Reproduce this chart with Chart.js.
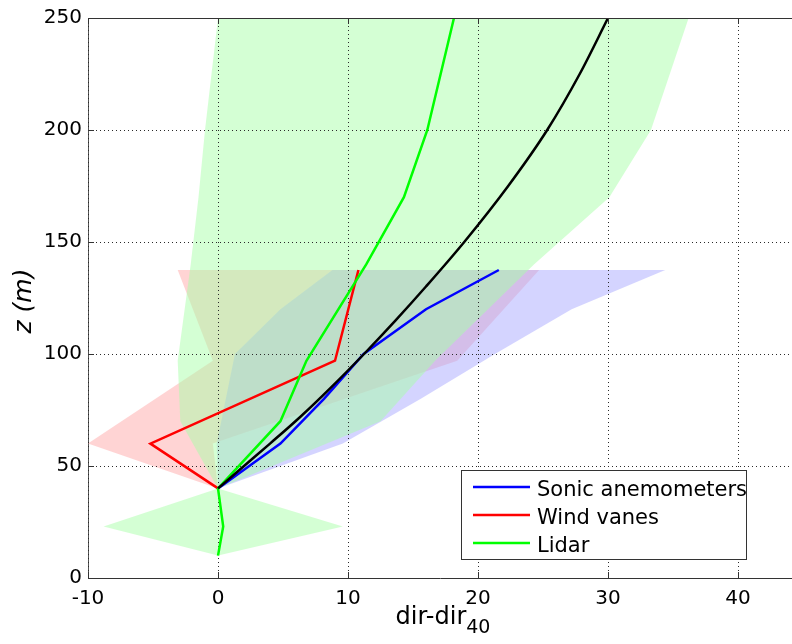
<!DOCTYPE html>
<html>
<head>
<meta charset="utf-8">
<title>Wind direction change with height</title>
<script src="https://cdn.jsdelivr.net/npm/chart.js@4/dist/chart.umd.min.js"></script>
<style>
  html, body { margin: 0; padding: 0; background: #ffffff; overflow: hidden; }
  #wrap { width: 792px; height: 644px; position: relative; }
</style>
</head>
<body>
<div id="wrap"><canvas id="veer" width="792" height="644"></canvas></div>
<script>
// Sonic anemometers: heights (m), mean turning and spread (deg)
const sonicHeights = [40, 60, 80, 100, 120, 137.5];
const sonicMean    = [0, 4.8, 8.15, 11.2, 16.0, 21.6];
const sonicLow     = [0, -0.1, 0.6, 1.3, 4.8, 8.8];
const sonicHigh    = [0, 9.6, 15.6, 21.3, 27.2, 34.4];

// Wind vanes
const vaneHeights = [40, 60, 97, 137.5];
const vaneMean    = [0, -5.2, 9.0, 10.8];
const vaneLow     = [0, -10.0, -0.4, -3.1];
const vaneHigh    = [0, -0.4, 18.4, 24.7];

// Lidar
const lidarHeights = [10, 23, 40, 70, 97, 140, 170, 200, 250];
const lidarMean    = [0, 0.4, 0, 4.8, 6.8, 11.4, 14.3, 16.1, 18.15];
const lidarLow     = [0, -8.8, 0, -2.9, -3.1, -2.1, -1.5, -1.0, 0];
const lidarHigh    = [0, 9.6, 0, 12.5, 16.7, 24.3, 30.1, 33.3, 36.2];

// Model profile
const fitHeights = [40, 50, 60, 72, 85, 100, 115, 130, 150, 175, 200, 225, 250];
const fitValues  = [0, 2.0, 4.0, 6.34, 8.68, 11.23, 13.66, 15.98, 18.94, 22.32, 25.32, 27.82, 30.0];

// Axis ticks
const xTicks = [-10, 0, 10, 20, 30, 40];
const yTicks = [0, 50, 100, 150, 200, 250];

const FONT = 'DejaVu Sans';

const toPoints = (xs, zs) => zs.map((z, i) => ({ x: xs[i], y: z }));
// closed outline: up the lower edge, back down the upper edge
const toBand = (lo, hi, zs) => toPoints(lo, zs).concat(toPoints(hi, zs).reverse());

function bandSet(lo, hi, zs, color, order) {
  return {
    label: '',
    data: toBand(lo, hi, zs),
    showLine: true,
    fill: 'shape',
    backgroundColor: color,
    borderColor: 'rgba(0,0,0,0)',
    borderWidth: 0,
    pointRadius: 0,
    tension: 0,
    order: order
  };
}

function lineSet(label, xs, zs, color, order, smooth) {
  const ds = {
    label: label,
    data: toPoints(xs, zs),
    showLine: true,
    fill: false,
    borderColor: color,
    backgroundColor: color,
    borderWidth: 2.5,
    pointRadius: 0,
    tension: 0,
    order: order
  };
  if (smooth) ds.cubicInterpolationMode = 'monotone';
  return ds;
}

const datasets = [
  bandSet(vaneLow, vaneHigh, vaneHeights, 'rgba(255,170,170,0.5)', 7),
  bandSet(sonicLow, sonicHigh, sonicHeights, 'rgba(170,170,255,0.5)', 6),
  bandSet(lidarLow, lidarHigh, lidarHeights, 'rgba(170,255,170,0.5)', 5),
  lineSet('Sonic anemometers', sonicMean, sonicHeights, '#0000ff', 4),
  lineSet('Wind vanes', vaneMean, vaneHeights, '#ff0000', 3),
  lineSet('Lidar', lidarMean, lidarHeights, '#00ff00', 2),
  lineSet('Profile', fitValues, fitHeights, '#000000', 1, true)
];
const LAST_BAND = 2;
const LEGEND_ITEMS = [3, 4, 5];

function drawGrid(chart) {
  const { ctx, chartArea: a, scales: { x, y } } = chart;
  ctx.save();
  ctx.beginPath();
  ctx.rect(a.left, a.top, a.right - a.left, a.bottom - a.top);
  ctx.clip();
  ctx.strokeStyle = '#2a2a2a';
  ctx.lineWidth = 1;
  ctx.setLineDash([1, 3]);
  ctx.beginPath();
  xTicks.forEach(v => {
    const px = Math.round(x.getPixelForValue(v)) + 0.5;
    ctx.moveTo(px, a.top);
    ctx.lineTo(px, a.bottom);
  });
  yTicks.forEach(v => {
    const py = Math.round(y.getPixelForValue(v)) + 0.5;
    ctx.moveTo(a.left, py);
    ctx.lineTo(a.right, py);
  });
  ctx.stroke();
  ctx.restore();
}

const decor = {
  id: 'decor',
  afterDatasetDraw(chart, args) {
    if (args.index === LAST_BAND) drawGrid(chart);
  },
  afterDraw(chart) {
    const { ctx, chartArea: a, scales: { x, y } } = chart;
    ctx.save();

    // inward tick marks and top box edge
    ctx.strokeStyle = '#333333';
    ctx.lineWidth = 1;
    ctx.setLineDash([]);
    ctx.beginPath();
    xTicks.forEach(v => {
      const px = Math.round(x.getPixelForValue(v)) + 0.5;
      ctx.moveTo(px, a.bottom); ctx.lineTo(px, a.bottom - 6);
      ctx.moveTo(px, a.top); ctx.lineTo(px, a.top + 6);
    });
    yTicks.forEach(v => {
      const py = Math.round(y.getPixelForValue(v)) + 0.5;
      ctx.moveTo(a.left, py); ctx.lineTo(a.left + 6, py);
    });
    ctx.moveTo(a.left, Math.round(a.top) + 0.5);
    ctx.lineTo(a.right, Math.round(a.top) + 0.5);
    ctx.stroke();

    // x axis title with subscript
    ctx.fillStyle = '#000000';
    ctx.textBaseline = 'alphabetic';
    ctx.textAlign = 'left';
    const mainFont = '24px "' + FONT + '"';
    const subFont = '19px "' + FONT + '"';
    ctx.font = mainFont;
    const wMain = ctx.measureText('dir-dir').width;
    ctx.font = subFont;
    const wSub = ctx.measureText('40').width;
    const cx = (a.left + a.right) / 2 + 3;
    const x0 = cx - (wMain + wSub) / 2;
    ctx.font = mainFont;
    ctx.fillText('dir-dir', x0, 624);
    ctx.font = subFont;
    ctx.fillText('40', x0 + wMain, 633);

    // y axis title
    ctx.save();
    ctx.translate(31, 301);
    ctx.rotate(-Math.PI / 2);
    ctx.font = 'italic 25px "' + FONT + '"';
    ctx.textAlign = 'center';
    ctx.fillText('z (m)', 0, 0);
    ctx.restore();

    // legend
    const box = { l: 461.5, t: 470.5, w: 285, h: 89 };
    ctx.fillStyle = '#ffffff';
    ctx.fillRect(box.l, box.t, box.w, box.h);
    ctx.strokeStyle = '#333333';
    ctx.lineWidth = 1;
    ctx.strokeRect(box.l, box.t, box.w, box.h);
    const rowLine = [487, 515, 543];
    const rowBase = [496, 524, 552];
    ctx.font = '21px "' + FONT + '"';
    ctx.textAlign = 'left';
    LEGEND_ITEMS.forEach((di, i) => {
      const ds = chart.data.datasets[di];
      ctx.strokeStyle = ds.borderColor;
      ctx.lineWidth = 2.5;
      ctx.beginPath();
      ctx.moveTo(473, rowLine[i]);
      ctx.lineTo(530, rowLine[i]);
      ctx.stroke();
      ctx.fillStyle = '#000000';
      ctx.fillText(ds.label, 537, rowBase[i]);
    });

    ctx.restore();
  }
};

new Chart(document.getElementById('veer'), {
  type: 'scatter',
  data: { datasets: datasets },
  options: {
    responsive: false,
    animation: false,
    events: [],
    devicePixelRatio: 1,
    layout: { padding: { top: 15, right: 0, bottom: 0, left: 0 } },
    plugins: {
      legend: { display: false },
      tooltip: { enabled: false },
      title: { display: false }
    },
    scales: {
      x: {
        type: 'linear',
        position: 'bottom',
        min: -10,
        max: 44.15,
        afterBuildTicks: s => { s.ticks = xTicks.map(v => ({ value: v })); },
        afterFit: s => { s.height = 66; },
        grid: { display: false, drawTicks: false },
        border: { display: true, color: '#333333', width: 1 },
        ticks: {
          color: '#000000',
          font: { family: FONT, size: 20 },
          padding: 9,
          maxRotation: 0,
          autoSkip: false,
          includeBounds: false
        }
      },
      y: {
        type: 'linear',
        position: 'left',
        min: 0,
        max: 250,
        afterBuildTicks: s => { s.ticks = yTicks.map(v => ({ value: v })); },
        afterFit: s => { s.width = 88; },
        grid: { display: false, drawTicks: false },
        border: { display: true, color: '#555555', width: 1 },
        ticks: {
          color: '#000000',
          font: { family: FONT, size: 20 },
          padding: 6,
          autoSkip: false,
          includeBounds: false
        }
      }
    }
  },
  plugins: [decor]
});
</script>
</body>
</html>
